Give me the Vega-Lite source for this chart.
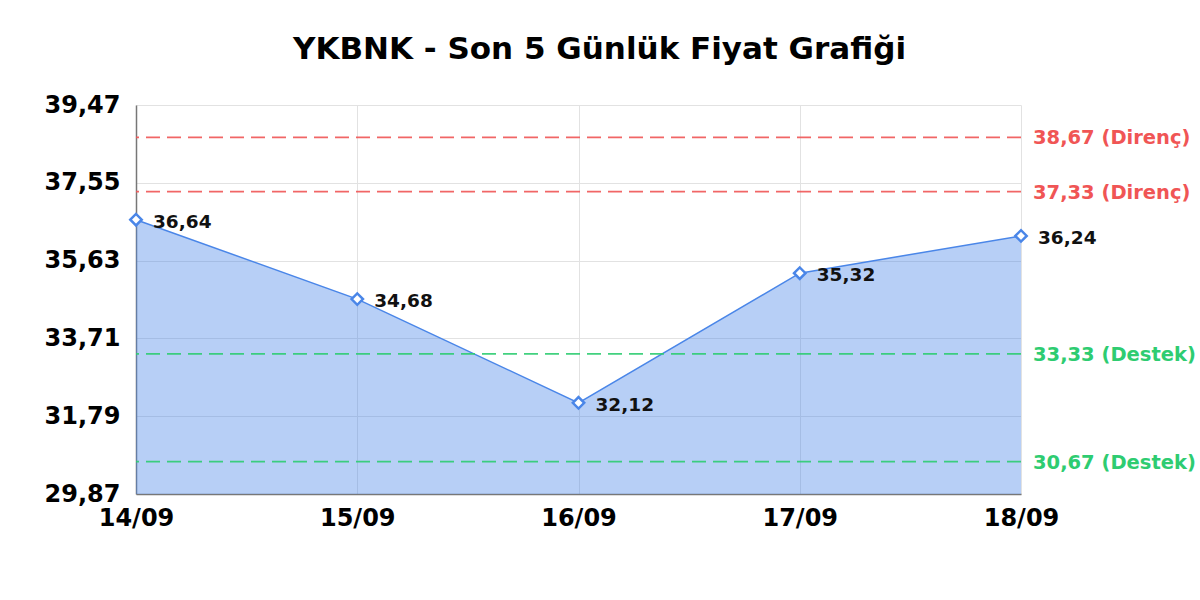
{
  "$schema": "https://vega.github.io/schema/vega-lite/v6.json",
  "autosize": "none",
  "width": 885,
  "height": 389,
  "padding": {"left": 136, "top": 105, "right": 179, "bottom": 106},
  "background": "white",
  "config": {
    "font": "DejaVu Sans",
    "view": {"stroke": null}
  },
  "title": {
    "text": "YKBNK - Son 5 Günlük Fiyat Grafiği",
    "fontSize": 31,
    "fontWeight": "bold",
    "font": "DejaVu Sans",
    "color": "#000000",
    "anchor": "middle",
    "dx": 21,
    "offset": 27
  },
  "datasets": {
    "prices": [
      {"date": "14/09", "price": 36.64},
      {"date": "15/09", "price": 34.68},
      {"date": "16/09", "price": 32.12},
      {"date": "17/09", "price": 35.32},
      {"date": "18/09", "price": 36.24}
    ],
    "levels": [
      {"date": "18/09", "level": 38.67, "kind": "Direnç"},
      {"date": "18/09", "level": 37.33, "kind": "Direnç"},
      {"date": "18/09", "level": 33.33, "kind": "Destek"},
      {"date": "18/09", "level": 30.67, "kind": "Destek"}
    ]
  },
  "encoding": {
    "x": {
      "field": "date",
      "type": "ordinal",
      "sort": null,
      "scale": {"type": "point", "padding": 0},
      "axis": {
        "title": null,
        "labelAngle": 0,
        "labelFontSize": 24,
        "labelFontWeight": "bold",
        "labelColor": "#000000",
        "labelPadding": 12,
        "ticks": false,
        "domainColor": "#777777",
        "domainWidth": 1.5,
        "grid": true,
        "gridColor": "#e2e2e2"
      }
    }
  },
  "layer": [
    {
      "data": {"name": "prices"},
      "mark": {"type": "area", "color": "#4a86e8", "opacity": 0.4, "clip": true},
      "encoding": {
        "y": {
          "field": "price",
          "type": "quantitative",
          "scale": {"domain": [29.87, 39.47], "nice": false, "zero": false},
          "axis": {
            "title": null,
            "values": [29.87, 31.79, 33.71, 35.63, 37.55, 39.47],
            "labelExpr": "replace(format(datum.value, '.2f'), '.', ',')",
            "labelFontSize": 24,
            "labelFontWeight": "bold",
            "labelColor": "#000000",
            "labelPadding": 16,
            "ticks": false,
            "domainColor": "#777777",
            "domainWidth": 1.5,
            "gridColor": "#e2e2e2"
          }
        },
        "y2": {"datum": 29.87}
      }
    },
    {
      "data": {"name": "prices"},
      "mark": {"type": "line", "color": "#4a86e8", "strokeWidth": 1.5},
      "encoding": {"y": {"field": "price", "type": "quantitative"}}
    },
    {
      "data": {"name": "levels"},
      "mark": {"type": "rule", "strokeDash": [14, 7], "strokeWidth": 1.8, "opacity": 0.9},
      "encoding": {
        "x": null,
        "y": {"field": "level", "type": "quantitative"},
        "color": {
          "field": "kind",
          "type": "nominal",
          "scale": {"domain": ["Direnç", "Destek"], "range": ["#f05555", "#2ecc71"]},
          "legend": null
        }
      }
    },
    {
      "data": {"name": "levels"},
      "transform": [
        {"calculate": "replace(format(datum.level, '.2f'), '.', ',') + ' (' + datum.kind + ')'", "as": "label"}
      ],
      "mark": {"type": "text", "align": "left", "baseline": "middle", "dx": 12, "dy": 1, "fontSize": 19.5, "fontWeight": "bold"},
      "encoding": {
        "y": {"field": "level", "type": "quantitative"},
        "text": {"field": "label"},
        "color": {"field": "kind", "type": "nominal", "legend": null}
      }
    },
    {
      "data": {"name": "prices"},
      "mark": {"type": "point", "shape": "diamond", "filled": true, "fill": "white", "stroke": "#4a86e8", "strokeWidth": 2.5, "size": 130, "opacity": 1},
      "encoding": {"y": {"field": "price", "type": "quantitative"}}
    },
    {
      "data": {"name": "prices"},
      "transform": [
        {"calculate": "replace(format(datum.price, '.2f'), '.', ',')", "as": "label"}
      ],
      "mark": {"type": "text", "align": "left", "baseline": "middle", "dx": 17, "dy": 2, "fontSize": 18.5, "fontWeight": "bold", "color": "#111111"},
      "encoding": {
        "y": {"field": "price", "type": "quantitative"},
        "text": {"field": "label"}
      }
    }
  ]
}
